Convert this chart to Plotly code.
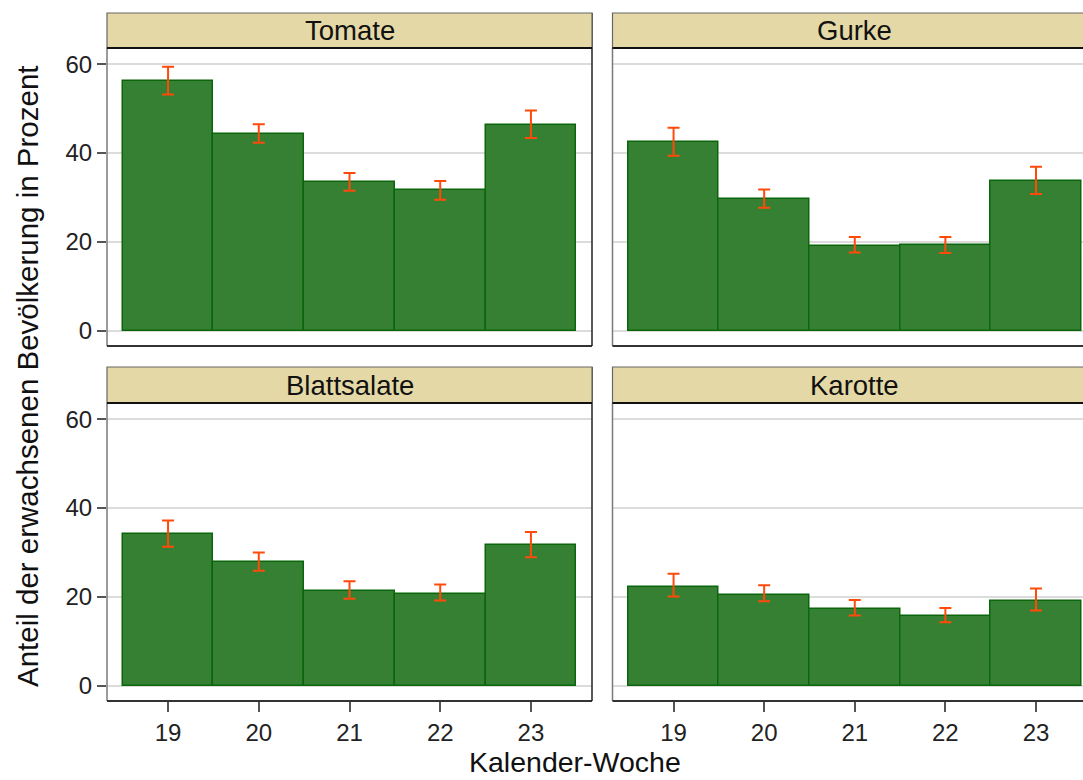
import plotly.graph_objects as go

W, H = 1083, 780

weeks = [19, 20, 21, 22, 23]
week_labels = ["19", "20", "21", "22", "23"]
panel_names = ["Tomate", "Gurke", "Blattsalate", "Karotte"]

tomate = [56.2, 44.2, 33.4, 31.7, 46.3]
tomate_hi = [59.4, 46.5, 35.5, 33.7, 49.6]
tomate_lo = [53.2, 42.3, 31.5, 29.5, 43.4]

gurke = [42.4, 29.7, 19.1, 19.2, 33.7]
gurke_hi = [45.7, 31.8, 21.1, 21.1, 36.9]
gurke_lo = [39.4, 27.7, 17.6, 17.5, 30.8]

blatt = [34.1, 27.9, 21.4, 20.7, 31.7]
blatt_hi = [37.2, 30.0, 23.5, 22.8, 34.6]
blatt_lo = [31.3, 25.9, 19.6, 19.2, 28.9]

karotte = [22.3, 20.5, 17.3, 15.8, 19.1]
karotte_hi = [25.2, 22.6, 19.3, 17.5, 21.9]
karotte_lo = [20.1, 19.0, 15.8, 14.3, 16.9]

y_ticks = [0, 20, 40, 60]

series = [(tomate, tomate_hi, tomate_lo), (gurke, gurke_hi, gurke_lo),
          (blatt, blatt_hi, blatt_lo), (karotte, karotte_hi, karotte_lo)]

FONT = "Liberation Sans, Arial, sans-serif"
BAR = "#368034"
BAR_LINE = "#0a660a"
ERR = "#ff4a0a"
STRIP = "#e4d9a6"
GRID = "#dcdcdc"

# pixel geometry
cols = [(107, 592), (612.5, 1083)]
rows = [(48, 346, 13), (403, 701, 367)]  # plot top, plot bottom, strip top
xranges = [[18.327, 23.673], [18.326, 23.519]]
yrange = [-3.45, 63.65]

def px(x):
    return x / W

def py(y):
    return 1 - y / H

fig = go.Figure()
shapes = []
annotations = []

for i, (vals, hi, lo) in enumerate(series):
    r, c = divmod(i, 2)
    n = i + 1
    xa = "x" if n == 1 else f"x{n}"
    ya = "y" if n == 1 else f"y{n}"
    plus = [h - v for h, v in zip(hi, vals)]
    minus = [v - l for v, l in zip(vals, lo)]
    fig.add_trace(go.Bar(
        x=weeks, y=vals, width=1.0, xaxis=xa, yaxis=ya,
        marker=dict(color=BAR, line=dict(color=BAR_LINE, width=1.5)),
        error_y=dict(type="data", array=plus, arrayminus=minus, symmetric=False,
                     color=ERR, thickness=2, width=6),
        showlegend=False,
    ))
    x0, x1 = cols[c]
    top, bot, stop = rows[r]
    xkey = "xaxis" if n == 1 else f"xaxis{n}"
    ykey = "yaxis" if n == 1 else f"yaxis{n}"
    bottom_row = r == 1
    left_col = c == 0
    fig.update_layout(**{
        xkey: dict(domain=[px(x0), px(x1)], range=xranges[c], anchor=ya,
                   tickmode="array", tickvals=weeks if bottom_row else [],
                   ticktext=week_labels if bottom_row else [],
                   showticklabels=bottom_row, ticks="outside" if bottom_row else "",
                   ticklen=10, tickwidth=1.5, tickcolor="#555",
                   tickfont=dict(family=FONT, size=24, color="#222"),
                   showgrid=False, zeroline=False, showline=False, fixedrange=True),
        ykey: dict(domain=[py(bot), py(top)], range=yrange, anchor=xa,
                   tickmode="array", tickvals=y_ticks,
                   ticktext=[str(t) for t in y_ticks],
                   showticklabels=left_col, ticks="outside" if left_col else "",
                   ticklen=9, tickwidth=1.5, tickcolor="#555",
                   tickfont=dict(family=FONT, size=24, color="#222"),
                   showgrid=True, gridcolor=GRID, gridwidth=2,
                   zeroline=False, showline=False, fixedrange=True),
    })
    # panel border
    right_edge = x1 if c == 0 else 1200
    shapes.append(dict(type="line", xref="paper", yref="paper",
                       x0=px(x0), x1=px(x0), y0=py(bot), y1=py(top),
                       line=dict(color="#7a7a7a", width=1.5)))
    shapes.append(dict(type="line", xref="paper", yref="paper",
                       x0=px(x0), x1=px(right_edge), y0=py(bot), y1=py(bot),
                       line=dict(color="#333", width=1.8)))
    if c == 0:
        shapes.append(dict(type="line", xref="paper", yref="paper",
                           x0=px(x1), x1=px(x1), y0=py(bot), y1=py(stop),
                           line=dict(color="#222", width=1.5)))
    # strip
    shapes.append(dict(type="rect", xref="paper", yref="paper",
                       x0=px(x0), x1=px(right_edge), y0=py(top), y1=py(stop),
                       fillcolor=STRIP, line=dict(color="#666", width=1.2), layer="above"))
    shapes.append(dict(type="line", xref="paper", yref="paper",
                       x0=px(x0), x1=px(right_edge), y0=py(top), y1=py(top),
                       line=dict(color="#111", width=2), layer="above"))
    strip_cx = (x0 + (x1 if c == 0 else 1097)) / 2
    annotations.append(dict(text=panel_names[i], xref="paper", yref="paper",
                            x=px(strip_cx), y=py((top + stop) / 2),
                            xanchor="center", yanchor="middle", showarrow=False,
                            font=dict(family=FONT, size=27.5, color="#111")))

annotations.append(dict(text="Kalender-Woche", xref="paper", yref="paper",
                        x=px(575), y=0, xanchor="center", yanchor="bottom",
                        showarrow=False, font=dict(family=FONT, size=28.5, color="#111")))
annotations.append(dict(text="Anteil der erwachsenen Bevölkerung in Prozent",
                        xref="paper", yref="paper", x=px(27), y=py(376),
                        xanchor="center", yanchor="middle", textangle=-90,
                        showarrow=False, font=dict(family=FONT, size=29.5, color="#111")))

fig.update_layout(
    width=W, height=H,
    margin=dict(l=0, r=0, t=0, b=0),
    paper_bgcolor="white", plot_bgcolor="white",
    bargap=0, shapes=shapes, annotations=annotations,
)

fig.write_html("out.html", config={"displayModeBar": False})
